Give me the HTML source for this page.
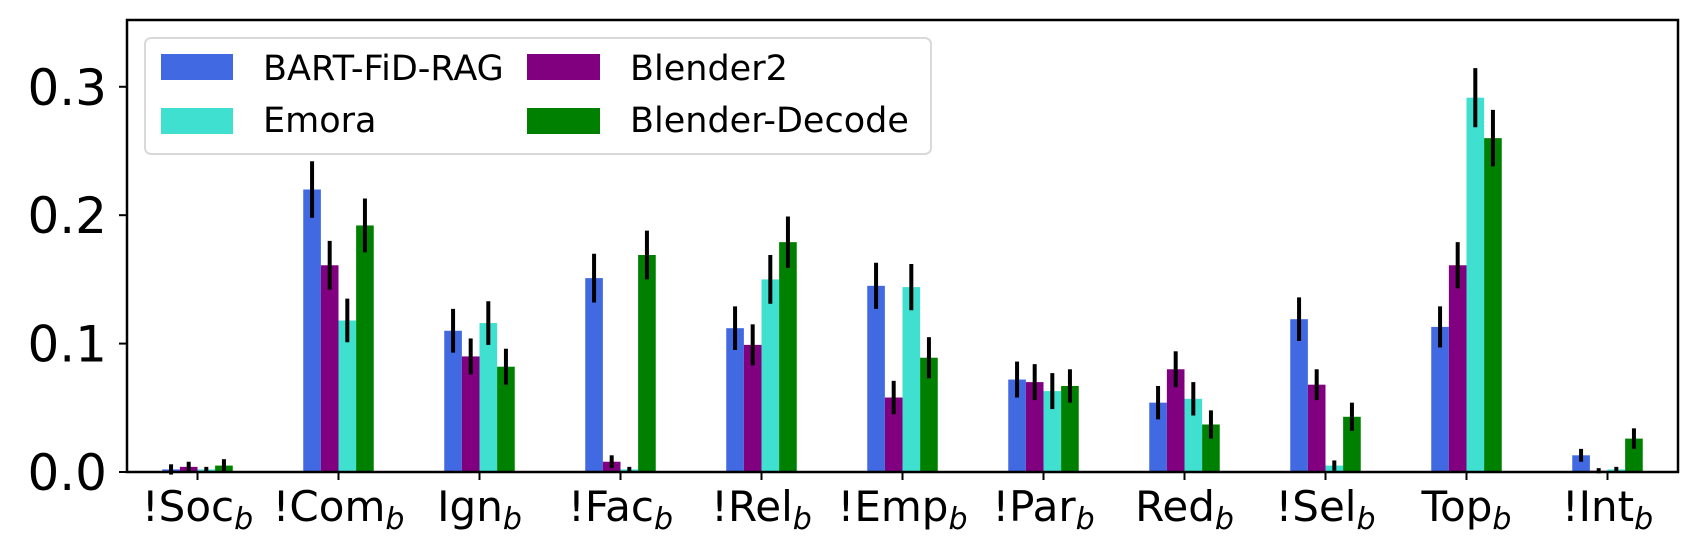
<!DOCTYPE html>
<html><head><meta charset="utf-8"><style>
html,body{margin:0;padding:0;background:#fff}
svg{display:block;font-family:"DejaVu Sans","Liberation Sans",sans-serif}
</style></head><body>
<svg id="chart" width="1698" height="557" viewBox="0 0 1698 557">
<g id="bars"></g>
<g id="errs"></g>
<g id="axes"></g>
<g>
<rect x="145" y="38" width="786" height="116" rx="6" fill="#fff" fill-opacity="0.8" stroke="#d9d9d9" stroke-width="2"/>
<rect x="161" y="54" width="72" height="26" fill="#4169e1"/>
<text x="263" y="80" font-size="35">BART-FiD-RAG</text>
<rect x="161" y="108" width="72" height="26" fill="#40e0d0"/>
<text x="263" y="132" font-size="35">Emora</text>
<rect x="527" y="54" width="73" height="26" fill="#800080"/>
<text x="630" y="80" font-size="35">Blender2</text>
<rect x="527" y="108" width="73" height="26" fill="#008000"/>
<text x="630" y="132" font-size="35">Blender-Decode</text>
</g>
</svg>
<script>
const categories = ["!Soc","!Com","Ign","!Fac","!Rel","!Emp","!Par","Red","!Sel","Top","!Int"];
const seriesNames = ["BART-FiD-RAG","Blender2","Emora","Blender-Decode"];
const seriesColors = ["#4169e1","#800080","#40e0d0","#008000"];
const bartVals    = [0.002,0.220,0.110,0.151,0.112,0.145,0.072,0.054,0.119,0.113,0.013];
const blender2Vals= [0.004,0.161,0.090,0.008,0.099,0.058,0.070,0.080,0.068,0.161,0.001];
const emoraVals   = [0.002,0.118,0.116,0.002,0.150,0.144,0.063,0.057,0.005,0.2915,0.002];
const decodeVals  = [0.005,0.192,0.082,0.169,0.179,0.089,0.067,0.037,0.043,0.260,0.026];
const bartErr     = [0.004,0.022,0.017,0.019,0.017,0.018,0.014,0.013,0.017,0.016,0.005];
const blender2Err = [0.004,0.019,0.014,0.005,0.016,0.013,0.014,0.014,0.012,0.018,0.002];
const emoraErr    = [0.002,0.017,0.017,0.002,0.019,0.018,0.014,0.013,0.004,0.023,0.002];
const decodeErr   = [0.005,0.021,0.014,0.019,0.020,0.016,0.013,0.011,0.011,0.022,0.008];
const yTicks = [0.0,0.1,0.2,0.3];
const yTickLabels = ["0.0","0.1","0.2","0.3"];

const NS="http://www.w3.org/2000/svg";
const L=127,R=1678,T=20,B=472;
const xmin=-0.5,xmax=categories.length-0.5,ymax=0.352;
const xs=i=>L+(i-xmin)/(xmax-xmin)*(R-L);
const ys=v=>B-v/ymax*(B-T);
const unit=(R-L)/(xmax-xmin);
const bw=unit*0.125;
const vals=[bartVals,blender2Vals,emoraVals,decodeVals];
const errs=[bartErr,blender2Err,emoraErr,decodeErr];
function mk(tag,attrs,parent){const e=document.createElementNS(NS,tag);for(const k in attrs)e.setAttribute(k,attrs[k]);parent.appendChild(e);return e;}
const gb=document.getElementById('bars'),ge=document.getElementById('errs'),ga=document.getElementById('axes');
categories.forEach((c,i)=>{
  vals.forEach((arr,s)=>{
    const x0=xs(i)+(s-2)*bw;
    const r=mk('rect',{x:x0,y:ys(arr[i]),width:bw,height:ys(0)-ys(arr[i]),fill:seriesColors[s]},gb);
    
    
    const cx=x0+bw/2;
    const l=mk('line',{x1:cx,x2:cx,y1:ys(arr[i]-errs[s][i]),y2:ys(arr[i]+errs[s][i]),stroke:'#000','stroke-width':4},ge);
    
    
  });
  const tk=mk('line',{x1:xs(i),x2:xs(i),y1:B,y2:B+8,stroke:'#000','stroke-width':2},ga);
  
  
  const t=mk('text',{x:xs(i),y:521,'text-anchor':'middle','font-size':42},ga);
  
  
  t.textContent=c;
  const sub=document.createElementNS(NS,'tspan');
  sub.setAttribute('font-size','30');sub.setAttribute('font-style','italic');sub.setAttribute('dy','8');
  sub.textContent='b';t.appendChild(sub);
});
yTicks.forEach((v,k)=>{
  const tk=mk('line',{x1:L-8,x2:L,y1:ys(v),y2:ys(v),stroke:'#000','stroke-width':2},ga);
  
  
  const t=mk('text',{x:L-20,y:ys(v)+18,'text-anchor':'end','font-size':50},ga);
  
  
  t.textContent=yTickLabels[k];
});
const fr=mk('rect',{x:L,y:T,width:R-L,height:B-T,fill:'none',stroke:'#000','stroke-width':2.5},ga);


</script>
</body></html>
